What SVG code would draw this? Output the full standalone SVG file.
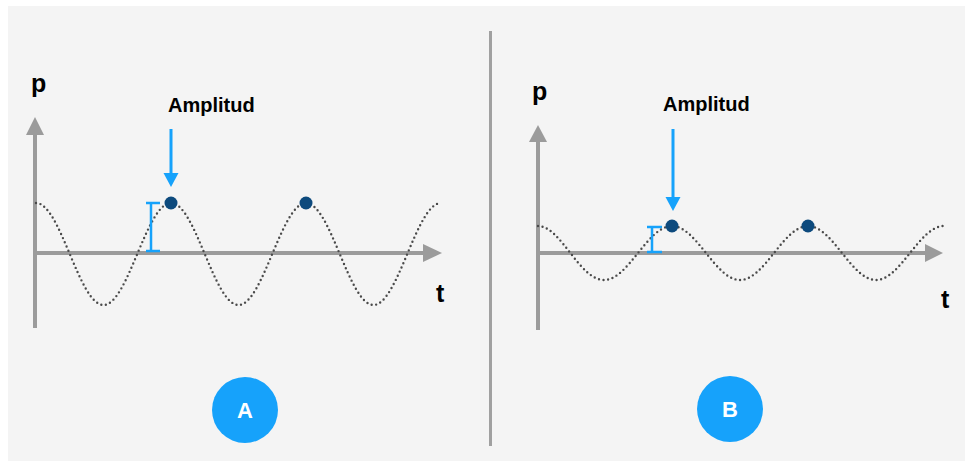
<svg xmlns="http://www.w3.org/2000/svg" width="965" height="461" viewBox="0 0 965 461">
<style>
.axis{stroke:#9b9b9b;stroke-width:4;fill:none}
.axhead{fill:#9b9b9b}
.wave{stroke:#4a4a4a;stroke-width:2.4;fill:none;stroke-dasharray:0 4.6;stroke-linecap:round}
.blue{stroke:#16a2fb;stroke-width:3;fill:none}
.bluefill{fill:#16a2fb}
.amp{stroke:#16a2fb;stroke-width:2.5;fill:none}
.dot{fill:#0d4a7d}
.lbl{font-family:"Liberation Sans",Arial,sans-serif;font-weight:bold;fill:#000}
.badge{fill:#16a2fb}
.badgetxt{font-family:"Liberation Sans",Arial,sans-serif;font-weight:bold;fill:#fff;font-size:22px;text-anchor:middle}
</style>
<rect x="0" y="0" width="965" height="461" fill="#ffffff"/>
<rect x="8" y="6" width="957" height="455" fill="#f4f4f4"/>
<line x1="490.5" y1="31" x2="490.5" y2="446" stroke="#a0a0a0" stroke-width="3"/>

<g id="panelA">
  <g id="axesA">
    <line class="axis" x1="35" y1="328" x2="35" y2="134"/>
    <polygon class="axhead" points="35,117 26,135 44,135"/>
    <line class="axis" x1="33" y1="253" x2="424" y2="253"/>
    <polygon class="axhead" points="442,253 423,244 423,262"/>
  </g>
  <path id="waveA" class="wave" d="M36,203 C60.5,203 79,305 103.5,305 S146.5,203 171,203 S214,305 238.5,305 S281.5,203 306,203 S349,305 373.5,305 S416.5,203 441,203"/>
  <g id="bracketA">
    <line class="amp" x1="151" y1="203" x2="151" y2="251"/>
    <line class="amp" x1="146" y1="203" x2="160" y2="203"/>
    <line class="amp" x1="146" y1="251" x2="160" y2="251"/>
  </g>
  <g id="arrowA">
    <line class="blue" x1="171" y1="129" x2="171" y2="175"/>
    <polygon class="bluefill" points="171,187 163.5,173 178.5,173"/>
  </g>
  <circle class="dot" cx="171" cy="203" r="6.5"/>
  <circle class="dot" cx="306" cy="203" r="6.5"/>
  <text class="lbl" x="31" y="92" font-size="25">p</text>
  <text class="lbl" x="436" y="302" font-size="25">t</text>
  <text class="lbl" x="168" y="112" font-size="20">Amplitud</text>
  <g id="badgeA">
    <circle class="badge" cx="245" cy="410" r="33"/>
    <text class="badgetxt" x="245" y="418">A</text>
  </g>
</g>

<g id="panelB">
  <g id="axesB">
    <line class="axis" x1="538" y1="330" x2="538" y2="141"/>
    <polygon class="axhead" points="538,125 529,142 547,142"/>
    <line class="axis" x1="536" y1="253" x2="926" y2="253"/>
    <polygon class="axhead" points="943,253 925,244 925,262"/>
  </g>
  <path id="waveB" class="wave" d="M538,226 C561,226 579.3,280 604,280 S647.3,226 672,226 S715.3,280 740,280 S783.3,226 808,226 S851.3,280 876,280 S919.3,226 944,226"/>
  <g id="bracketB">
    <line class="amp" x1="652" y1="227" x2="652" y2="252"/>
    <line class="amp" x1="647" y1="227" x2="662" y2="227"/>
    <line class="amp" x1="647" y1="252" x2="662" y2="252"/>
  </g>
  <g id="arrowB">
    <line class="blue" x1="673" y1="129" x2="673" y2="199"/>
    <polygon class="bluefill" points="673,211 665.5,197 680.5,197"/>
  </g>
  <circle class="dot" cx="672" cy="226" r="6.5"/>
  <circle class="dot" cx="808" cy="226" r="6.5"/>
  <text class="lbl" x="532" y="100" font-size="25">p</text>
  <text class="lbl" x="941" y="308" font-size="25">t</text>
  <text class="lbl" x="663" y="111" font-size="20">Amplitud</text>
  <g id="badgeB">
    <circle class="badge" cx="730" cy="409" r="33"/>
    <text class="badgetxt" x="730" y="417">B</text>
  </g>
</g>
</svg>
